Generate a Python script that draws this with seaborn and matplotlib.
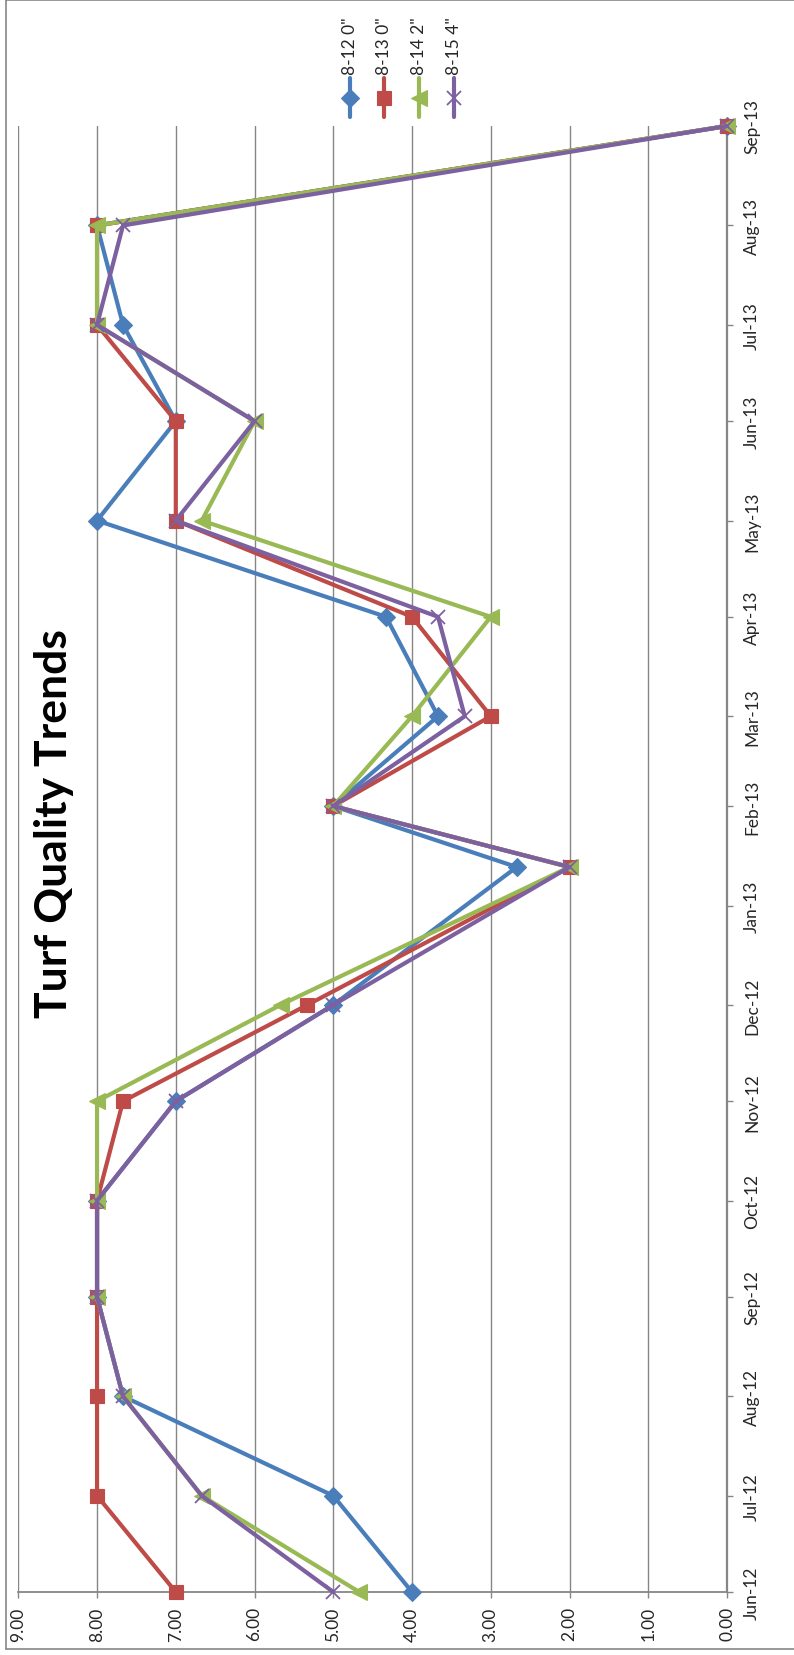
import pandas as pd
import matplotlib
matplotlib.use("Agg")
import matplotlib.pyplot as plt
import matplotlib.dates as mdates
from matplotlib.lines import Line2D
import seaborn as sns

# Rating dates (first of each month, except the mid-January rating)
sample_dates = [
    "2012-06-01", "2012-07-01", "2012-08-01", "2012-09-01", "2012-10-01",
    "2012-11-01", "2012-12-01", "2013-01-13", "2013-02-01", "2013-03-01",
    "2013-04-01", "2013-05-01", "2013-06-01", "2013-07-01", "2013-08-01",
    "2013-09-01",
]

series_names = ['8-12 0"', '8-13 0"', '8-14 2"', '8-15 4"']

quality_8_12 = [4.00, 5.00, 7.67, 8.00, 8.00, 7.00, 5.00, 2.67, 5.00, 3.67, 4.33, 8.00, 7.00, 7.67, 8.00, 0.00]
quality_8_13 = [7.00, 8.00, 8.00, 8.00, 8.00, 7.67, 5.33, 2.00, 5.00, 3.00, 4.00, 7.00, 7.00, 8.00, 8.00, 0.00]
quality_8_14 = [4.67, 6.67, 7.67, 8.00, 8.00, 8.00, 5.67, 2.00, 5.00, 4.00, 3.00, 6.67, 6.00, 8.00, 8.00, 0.00]
quality_8_15 = [5.00, 6.67, 7.67, 8.00, 8.00, 7.00, 5.00, 2.00, 5.00, 3.33, 3.67, 7.00, 6.00, 8.00, 7.67, 0.00]

month_ticks = [
    "2012-06-01", "2012-07-01", "2012-08-01", "2012-09-01", "2012-10-01",
    "2012-11-01", "2012-12-01", "2013-01-01", "2013-02-01", "2013-03-01",
    "2013-04-01", "2013-05-01", "2013-06-01", "2013-07-01", "2013-08-01",
    "2013-09-01",
]
month_labels = [
    "Jun-12", "Jul-12", "Aug-12", "Sep-12", "Oct-12", "Nov-12", "Dec-12",
    "Jan-13", "Feb-13", "Mar-13", "Apr-13", "May-13", "Jun-13", "Jul-13",
    "Aug-13", "Sep-13",
]
value_ticks = [0, 1, 2, 3, 4, 5, 6, 7, 8, 9]

# Long-form table for seaborn
date_nums = mdates.date2num(pd.to_datetime(sample_dates))
frames = []
for name, vals in zip(series_names, [quality_8_12, quality_8_13, quality_8_14, quality_8_15]):
    frames.append(pd.DataFrame({"series": name, "date": date_nums, "quality": vals}))
df = pd.concat(frames, ignore_index=True)

styles = {
    '8-12 0"': dict(color="#4A7EBB", marker="D", ms=9.0, mew=0.8),
    '8-13 0"': dict(color="#BE4B48", marker="s", ms=10.5, mew=0.8),
    '8-14 2"': dict(color="#98B954", marker="<", ms=11.0, mew=0.8),
    '8-15 4"': dict(color="#7D60A0", marker="x", ms=9.5, mew=1.3),
}

sns.set_style("white")
plt.rcParams["font.family"] = ["Lato", "DejaVu Sans"]

W, H = 794, 1656
fig = plt.figure(figsize=(W / 100, H / 100), dpi=100)
ax = fig.add_axes([18.3 / W, 1 - 1593 / H, (727 - 18.3) / W, (1593 - 127) / H])

grey = "#868686"
text_col = "#262626"

for name in series_names:
    st = styles[name]
    sns.lineplot(
        data=df[df["series"] == name], x="quality", y="date", orient="y",
        estimator=None, sort=False, ax=ax, legend=False,
        color=st["color"], lw=3.0, marker=st["marker"], markersize=st["ms"],
        markeredgecolor=st["color"], markerfacecolor=st["color"],
        markeredgewidth=st["mew"],
    )
for line in ax.lines:
    line.set_clip_on(False)
    line.set_zorder(3)

# Value axis runs 9 -> 0 across the page, dates run bottom -> top
ax.set_xlim(9, 0)
tick_nums = mdates.date2num(pd.to_datetime(month_ticks))
ax.set_ylim(tick_nums[0], tick_nums[-1])

ax.set_xticks(value_ticks)
ax.set_xticklabels([f"{v:.2f}" for v in value_ticks], rotation=90)
ax.set_yticks(tick_nums)
ax.set_yticklabels(month_labels, rotation=90, va="center")
ax.yaxis.tick_right()
ax.set_xlabel("")
ax.set_ylabel("")

ax.tick_params(axis="x", bottom=True, direction="out", length=4.3, width=1,
               color=grey, pad=6, labelsize=12.5, labelcolor=text_col)
ax.tick_params(axis="y", right=True, left=False, direction="out", length=4.3,
               width=1, color=grey, pad=8.0, labelsize=12.5, labelcolor=text_col)

ax.grid(False)
ax.xaxis.grid(True, color=grey, lw=1.0)
ax.set_axisbelow(True)
for side in ["left", "top"]:
    ax.spines[side].set_visible(False)
ax.spines["bottom"].set_color(grey)
ax.spines["bottom"].set_linewidth(1.3)
ax.spines["right"].set_color(grey)
ax.spines["right"].set_linewidth(1.6)

# Title
fig.text(54 / W, 1 - 824 / H, "Turf Quality Trends", rotation=90, fontsize=32,
         fontweight="bold", ha="center", va="center", color="black")

# Legend, drawn vertically above the plot
legend_x = [350, 384, 419, 454]
for name, lx in zip(series_names, legend_x):
    st = styles[name]
    x = lx / W
    fig.add_artist(Line2D([x, x], [1 - 118 / H, 1 - 79 / H], transform=fig.transFigure,
                          color=st["color"], lw=3.0))
    fig.add_artist(Line2D([x], [1 - 98.5 / H], transform=fig.transFigure, ls="none",
                          marker=st["marker"], ms=st["ms"], color=st["color"],
                          mec=st["color"], mfc=st["color"], mew=st["mew"]))
    fig.text(x, 1 - 75 / H, name, rotation=90, ha="center", va="bottom",
             fontsize=12.5, color=text_col)

# Chart area border
for xs, ys in [([6 / W, 6 / W], [1 - 1650 / H, 1 - 1 / H]),
               ([6 / W, 1.0], [1 - 1 / H, 1 - 1 / H]),
               ([6 / W, 1.0], [1 - 1650 / H, 1 - 1650 / H])]:
    fig.add_artist(Line2D(xs, ys, transform=fig.transFigure, color=grey, lw=1.2))

fig.savefig("out.png", dpi=100)
